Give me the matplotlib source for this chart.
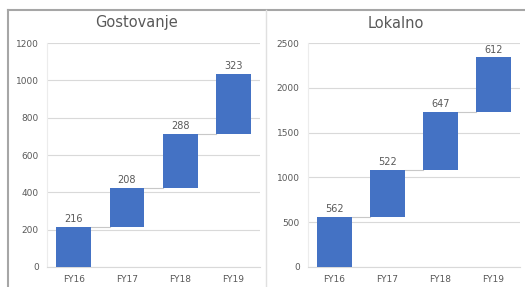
import matplotlib.pyplot as plt
import numpy as np
from matplotlib.lines import Line2D

categories = ['FY16', 'FY17', 'FY18', 'FY19']
gostovanje = [216, 208, 288, 323]
lokalno = [562, 522, 647, 612]

bar_color = '#4472C4'
text_color = '#595959'
grid_color = '#d9d9d9'


def waterfall(ax, values, ymax, step):
    x = np.arange(len(values))
    base = np.concatenate([[0], np.cumsum(values)[:-1]])
    top = base + np.array(values)
    ax.bar(x, values, bottom=base, width=0.65, color=bar_color, zorder=3)
    # connector lines between bars
    for i in range(len(values) - 1):
        ax.plot([x[i] + 0.325, x[i + 1] - 0.325], [top[i], top[i]],
                color='#c8c8c8', lw=0.8, zorder=2)
    for i in range(len(values)):
        ax.text(x[i], top[i] + ymax * 0.012, str(values[i]), ha='center', va='bottom',
                fontsize=7, color=text_color)
    ax.set_xlim(-0.5, 3.5)
    ax.set_ylim(0, ymax)
    ax.set_yticks(np.arange(0, ymax + 1, step))
    ax.set_xticks(x)
    ax.set_xticklabels(categories)
    ax.tick_params(length=0, labelsize=6.5, labelcolor=text_color, pad=6)
    ax.grid(axis='y', color=grid_color, lw=0.8, zorder=0)
    for s in ['top', 'right']:
        ax.spines[s].set_visible(False)
    ax.spines['left'].set_color('#ececec')
    ax.spines['bottom'].set_color(grid_color)


fig = plt.figure(figsize=(5.25, 2.87), dpi=100)
ax1 = fig.add_axes([0.0895, 0.0697, 0.406, 0.780])
ax2 = fig.add_axes([0.5867, 0.0697, 0.404, 0.780])
waterfall(ax1, gostovanje, 1200, 200)
waterfall(ax2, lokalno, 2500, 500)

# titles centred on each panel
fig.text(137 / 525, 1 - 23 / 287, 'Gostovanje', ha='center', va='center', fontsize=10.5, color=text_color)
fig.text(396 / 525, 1 - 23 / 287, 'Lokalno', ha='center', va='center', fontsize=10.5, color=text_color)

# panel frame
fig.add_artist(Line2D([8 / 525, 1], [1 - 10 / 287, 1 - 10 / 287], color='#a6a6a6', lw=1.5))
fig.add_artist(Line2D([8 / 525, 8 / 525], [0, 1 - 10 / 287], color='#a6a6a6', lw=1.5))
fig.add_artist(Line2D([266 / 525, 266 / 525], [0, 1 - 10 / 287], color='#e0e0e0', lw=1))

fig.savefig('out.png', dpi=100)
